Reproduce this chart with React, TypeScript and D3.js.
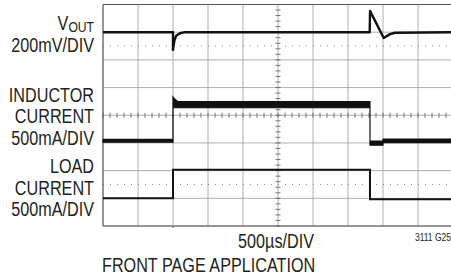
import React from "react";
import * as d3 from "d3";

// scope screen: 10 x 8 divisions, 500us/DIV -> 5ms across
const timeDomain = [0, 5]; // ms
const divDomain = [-4, 4]; // divisions, centre = 0

// V_OUT trace [time ms, divisions]
const voutTrace: [number, number][] = [
  [0, 3.0], [1.0, 3.0], [1.0, 2.36], [1.02, 2.7], [1.045, 2.87], [1.1, 2.96],
  [1.17, 3.0], [3.81, 3.0], [3.815, 3.77], [4.01, 2.79], [4.1, 2.93],
  [4.17, 2.98], [5, 3.0],
];

// inductor current envelope (ripple band) [time ms, low div, high div]
const inductorTrace: [number, number, number][] = [
  [0, -0.975, -0.87], [1.0, -0.975, -0.87], [1.0, 0.27, 0.66], [1.02, 0.27, 0.6],
  [1.07, 0.27, 0.49], [3.814, 0.27, 0.49], [3.814, -1.08, -0.93], [4.0, -1.08, -0.93],
  [4.0, -0.99, -0.86], [5, -0.99, -0.86],
];

// load current trace [time ms, divisions]
const loadTrace: [number, number][] = [
  [0, -3.0], [1.0, -3.0], [1.0, -1.97], [3.814, -1.97], [3.814, -3.03], [5, -3.03],
];

const dottedLevels = [2.5, -2.5];

const leftLabels = [
  { text: "200mV/DIV", y: 52 },
  { text: "INDUCTOR", y: 102 },
  { text: "CURRENT", y: 123 },
  { text: "500mA/DIV", y: 145 },
  { text: "LOAD", y: 173 },
  { text: "CURRENT", y: 195 },
  { text: "500mA/DIV", y: 216 },
];

const font = "'Liberation Sans', Arial, sans-serif";
const ink = "#231f20";
const squeeze = 0.81; // condensed face look

// text drawn in a horizontally squeezed frame
const Narrow = ({ x, y, anchor = "start", size, children }: any) => (
  <g transform={`translate(${x},${y}) scale(${squeeze},1)`}>
    <text x={0} y={0} textAnchor={anchor} fontSize={size}>
      {children}
    </text>
  </g>
);

export default function App() {
  const width = 451;
  const height = 275;

  const x = d3.scaleLinear().domain(timeDomain).range([103, 453]);
  const y = d3.scaleLinear().domain(divDomain).range([226, 4.5]);

  const xDivs = d3.range(0, 10.001, 1).map((d) => d * 0.5);
  const yDivs = d3.range(-4, 4.001, 1);
  const xMinor = d3.range(0, 5.001, 0.1);
  const yMinor = d3.range(-4, 4.001, 0.2);

  const line = d3
    .line<[number, number]>()
    .x((d) => x(d[0]))
    .y((d) => y(d[1]));

  const band = d3
    .area<[number, number, number]>()
    .x((d) => x(d[0]))
    .y0((d) => y(d[1]))
    .y1((d) => y(d[2]));

  return (
    <div style={{ position: "absolute", left: 0, top: 0 }}>
      <svg width={width} height={height} style={{ display: "block", background: "#fff" }}>
        {/* grid */}
        <g stroke="#9a9a9a" strokeWidth={0.8}>
          {xDivs.map((t) => (
            <line key={"gx" + t} x1={x(t)} x2={x(t)} y1={y(4)} y2={y(-4)} />
          ))}
          {yDivs.map((v) => (
            <line key={"gy" + v} x1={x(0)} x2={x(5)} y1={y(v)} y2={y(v)} />
          ))}
        </g>
        {/* dotted reference levels */}
        <g stroke="#8a8a8a" strokeWidth={1}>
          {dottedLevels.map((v) =>
            xMinor.map((t) => (
              <line key={"dt" + v + t} x1={x(t)} x2={x(t) + 1} y1={y(v)} y2={y(v)} />
            ))
          )}
        </g>
        {/* centre crosshair ticks */}
        <g stroke="#555" strokeWidth={0.8}>
          {xMinor.map((t) => (
            <line key={"tx" + t} x1={x(t)} x2={x(t)} y1={y(0) - 2.5} y2={y(0) + 2.5} />
          ))}
          {yMinor.map((v) => (
            <line key={"ty" + v} x1={x(2.5) - 2.5} x2={x(2.5) + 2.5} y1={y(v)} y2={y(v)} />
          ))}
        </g>
        {/* border */}
        <g stroke="#555" strokeWidth={1} fill="none">
          <line x1={x(0)} x2={x(0)} y1={y(4)} y2={y(-4)} />
          <line x1={x(0)} x2={x(5)} y1={y(4)} y2={y(4)} />
          <line x1={x(0)} x2={x(5)} y1={y(-4)} y2={y(-4)} />
          <line x1={x(1)} x2={x(1)} y1={y(-4)} y2={y(-4) + 2} />
        </g>

        {/* traces */}
        <path d={line(voutTrace) || ""} fill="none" stroke="#111" strokeWidth={2.4} strokeLinejoin="round" />
        <path d={band(inductorTrace) || ""} fill="#111" stroke="#111" strokeWidth={1.2} />
        <path d={line(loadTrace) || ""} fill="none" stroke="#111" strokeWidth={2} />

        {/* labels */}
        <g fontFamily={font} fill={ink}>
          <Narrow x={94} y={30} anchor="end" size={20}>
            V<tspan fontSize={15} dy={1.5}>OUT</tspan>
          </Narrow>
          {leftLabels.map((l, i) => (
            <Narrow key={i} x={94} y={l.y} anchor="end" size={20}>
              {l.text}
            </Narrow>
          ))}
          <Narrow x={276} y={248} anchor="middle" size={20}>
            500µs/DIV
          </Narrow>
          <Narrow x={102} y={272} size={20}>
            FRONT PAGE APPLICATION
          </Narrow>
          <Narrow x={451} y={241} anchor="end" size={10.5}>
            3111 G25
          </Narrow>
        </g>
      </svg>
    </div>
  );
}
